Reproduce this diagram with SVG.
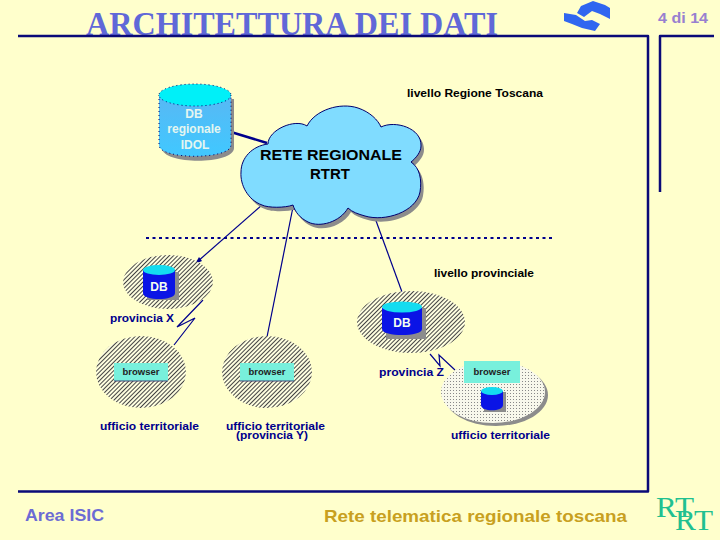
<svg xmlns="http://www.w3.org/2000/svg" width="720" height="540" viewBox="0 0 720 540">
<style>
.s{font-family:"Liberation Sans",Arial,sans-serif;font-weight:bold}
.k{fill:#000;font-size:11.5px}
.b{fill:#00008c;font-size:11.5px}
.f{fill:none;stroke:#0a0a78;stroke-width:2.5}
.c{fill:none;stroke:#00008c;stroke-width:1.2}
.sh{fill:#8c8c8c}
.db{fill:#0a14e6}
.top{fill:#14dcf0}
.br{fill:#78f0dc}
.hat{fill:url(#hatch)}
</style>
<defs>
<pattern id="hatch" width="3" height="3" patternUnits="userSpaceOnUse" patternTransform="rotate(45)">
<rect width="3" height="3" fill="#ffffe0"/><rect width="1" height="3" fill="#444"/>
</pattern>
<pattern id="dots" width="3" height="3" patternUnits="userSpaceOnUse">
<rect width="3" height="3" fill="#f8f8ec"/><rect width="1" height="1" fill="#888"/>
</pattern>
<linearGradient id="cyl" x1="0" y1="0" x2="0" y2="1"><stop offset="0" stop-color="#58b8f4"/><stop offset="1" stop-color="#40c8ff"/></linearGradient>
</defs>
<rect width="720" height="540" fill="#ffffcc"/>
<text id="title" x="86" y="35" font-family="Liberation Serif,serif" font-size="33" font-weight="bold" fill="#6068d8" textLength="412" lengthAdjust="spacingAndGlyphs">ARCHITETTURA DEI DATI</text>
<g id="frame">
<path class="f" d="M18 36H648V491.500H18M660 192V36H714" stroke-linejoin="round"/>
</g>
<g id="logo" fill="#3066f0">
<path d="M581 6L593 1L605 5L610 8V19L600 14L592 11L584 17L577 13Z"/>
<path d="M564 13L576 15L585 21L592 20L600 24L595 31L582 28L572 24L564 21Z"/>
</g>
<text id="page" class="s" x="658" y="23" font-size="15" fill="#9880d0" textLength="50" lengthAdjust="spacingAndGlyphs">4 di 14</text>
<text class="s k" x="407" y="97" textLength="136" lengthAdjust="spacingAndGlyphs">livello Regione Toscana</text>
<text class="s k" x="434" y="277" textLength="100" lengthAdjust="spacingAndGlyphs">livello provinciale</text>

<g id="connectors">
<path d="M231 132L267 143" fill="none" stroke="#00008c" stroke-width="2.5"/>
<path class="c" d="M262 205L197 262"/>
<path fill="#00008c" d="M195 264L199 257L202 261Z"/>
<path class="c" d="M293 207L267 337"/>
<path fill="#00008c" d="M293.500 204L295 210L290 209Z"/>
<path class="c" d="M375 218L402 292"/>
<path class="c" d="M203 300L177 327L195 318L174 345"/>
<path class="c" d="M430 354L440 366L439 355L455 370"/>
<path d="M146 238H555" fill="none" stroke="#00008c" stroke-width="2" stroke-dasharray="3 3.500"/>
</g>

<g id="db-regionale">
<path class="sh" d="M162 98H234V147C234 164 162 164 162 147Z" transform="translate(0,1)"/>
<path fill="url(#cyl)" stroke="#00006e" stroke-width="1" stroke-dasharray="1 3" d="M159 95V145C159 160 231 160 231 145V95Z"/>
<ellipse cx="195" cy="95" rx="36" ry="11" style="fill:#00f0f8" stroke="#00006e" stroke-dasharray="1 3"/>
<g class="s" font-size="12" fill="#e4f6f0" text-anchor="middle">
<text x="194" y="118">DB</text><text x="194" y="133">regionale</text><text x="195" y="149">IDOL</text>
</g>
</g>

<g id="rete-regionale">
<path transform="translate(3,4)" class="sh" d="M268 144C268 130 295 118 307 126C315 110 340 102 358 108C370 112 378 120 381 127C395 120 422 128 421 146C421 152 416 158 411 162C420 168 422 180 420 192C416 212 385 222 365 216C358 214 352 212 348 208C340 222 320 228 308 222C300 218 295 212 293 205C285 208 268 208 262 205C248 200 240 185 241 172C241 158 252 146 268 144Z"/>
<path fill="#80dcff" stroke="#00006e" stroke-width="1" d="M268 144C268 130 295 118 307 126C315 110 340 102 358 108C370 112 378 120 381 127C395 120 422 128 421 146C421 152 416 158 411 162C420 168 422 180 420 192C416 212 385 222 365 216C358 214 352 212 348 208C340 222 320 228 308 222C300 218 295 212 293 205C285 208 268 208 262 205C248 200 240 185 241 172C241 158 252 146 268 144Z"/>
<g class="s" font-size="15" fill="#000" text-anchor="middle">
<text x="331" y="160" textLength="142" lengthAdjust="spacingAndGlyphs">RETE REGIONALE</text><text x="330" y="179">RTRT</text>
</g>
</g>

<g id="provincia-x">
<ellipse class="hat" cx="168" cy="282" rx="45" ry="27"/>
<rect class="sh" x="147" y="272" width="32" height="28"/>
<path class="db" d="M143 270V293C143 301 175 301 175 293V270Z"/>
<ellipse class="top" cx="159" cy="270" rx="16" ry="5"/>
<text class="s" x="159" y="291" font-size="12" fill="#f4fff0" text-anchor="middle">DB</text>
<text class="s b" x="110" y="322" textLength="64" lengthAdjust="spacingAndGlyphs">provincia X</text>
</g>

<g id="ufficio-x">
<ellipse class="hat" cx="141" cy="372" rx="45" ry="36"/>
<rect x="114" y="363" width="54" height="18" class="br"/>
<path d="M114 381H168" stroke="#447" stroke-width="1"/>
<text class="s" x="141" y="375" font-size="9.500" fill="#222" text-anchor="middle">browser</text>
<text class="s b" x="100" y="430" textLength="99" lengthAdjust="spacingAndGlyphs">ufficio territoriale</text>
</g>

<g id="ufficio-y">
<ellipse class="hat" cx="267" cy="372" rx="45" ry="36"/>
<rect x="240" y="363" width="54" height="18" class="br"/>
<path d="M240 381H294" stroke="#447" stroke-width="1"/>
<text class="s" x="267" y="375" font-size="9.500" fill="#222" text-anchor="middle">browser</text>
<text class="s b" x="226" y="430" textLength="99" lengthAdjust="spacingAndGlyphs">ufficio territoriale</text>
<text class="s b" x="236" y="439" textLength="72" lengthAdjust="spacingAndGlyphs">(provincia Y)</text>
</g>

<g id="provincia-z">
<ellipse class="hat" cx="411" cy="322" rx="54" ry="31"/>
<rect class="sh" x="386" y="308" width="40" height="31"/>
<path class="db" d="M382 308V329C382 337 422 337 422 329V308Z"/>
<ellipse class="top" cx="402" cy="307" rx="20" ry="5.500"/>
<text class="s" x="402" y="327" font-size="12" fill="#f4fff0" text-anchor="middle">DB</text>
<text class="s b" x="379" y="376" textLength="65" lengthAdjust="spacingAndGlyphs">provincia Z</text>
</g>

<g id="ufficio-z">
<ellipse class="sh" cx="496" cy="395" rx="52" ry="31"/>
<ellipse cx="493" cy="392" rx="52" ry="31" fill="url(#dots)"/>
<rect x="464" y="361" width="56" height="22" class="br"/>
<text class="s" x="492" y="375" font-size="9.500" fill="#222" text-anchor="middle">browser</text>
<rect class="sh" x="484" y="392" width="22" height="20"/>
<path class="db" d="M481 391V405C481 412 503 412 503 405V391Z"/>
<ellipse class="top" cx="492" cy="391" rx="11" ry="4"/>
<text class="s b" x="451" y="439" textLength="99" lengthAdjust="spacingAndGlyphs">ufficio territoriale</text>
</g>

<g id="footer">
<text class="s" x="25" y="521" font-size="17" fill="#6c6cd4" textLength="79" lengthAdjust="spacingAndGlyphs">Area ISIC</text>
<text class="s" x="324" y="522" font-size="17" fill="#c8a020" textLength="303" lengthAdjust="spacingAndGlyphs">Rete telematica regionale toscana</text>
<text x="656" y="517" font-family="Liberation Serif,serif" font-size="30" fill="#20c090" textLength="38" lengthAdjust="spacingAndGlyphs">RT</text>
<text x="675" y="530" font-family="Liberation Serif,serif" font-size="30" fill="#20c090" textLength="38" lengthAdjust="spacingAndGlyphs">RT</text>
</g>
</svg>
